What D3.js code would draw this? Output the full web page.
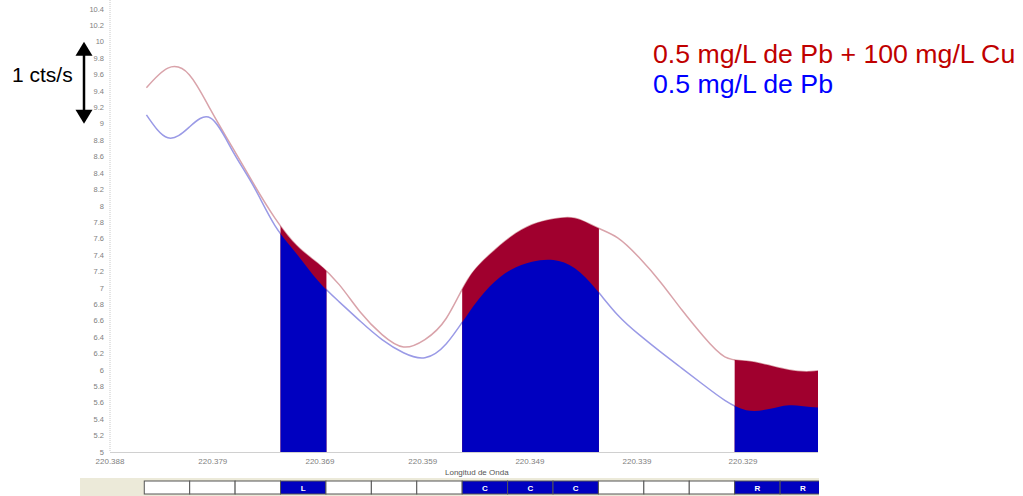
<!DOCTYPE html>
<html>
<head>
<meta charset="utf-8">
<script src="https://cdn.jsdelivr.net/npm/d3@7"></script>
<style>
  body { margin: 0; background: #fff; }
  svg { display: block; font-family: "Liberation Sans", Arial, sans-serif; }
</style>
</head>
<body>
<div id="chart"></div>
<script>
// spectrum around Pb 220.353 nm, wavelength decreasing to the right
var wavelengths = [220.3855, 220.3835, 220.3815, 220.3795, 220.3775, 220.3755, 220.3735, 220.3715,
  220.3695, 220.3675, 220.3655, 220.3635, 220.3615, 220.3595, 220.3575, 220.3555, 220.3535,
  220.3515, 220.3495, 220.3475, 220.3455, 220.3435, 220.3415, 220.3395, 220.3375, 220.3355,
  220.3335, 220.3315, 220.3295, 220.3275, 220.3255, 220.3235, 220.3215];

// 0.5 mg/L Pb + 100 mg/L Cu
var pbCu = [9.44, 9.68, 9.60, 9.17, 8.72, 8.27, 7.85, 7.52, 7.30, 7.04, 6.70, 6.43, 6.28, 6.37,
  6.63, 7.10, 7.40, 7.62, 7.77, 7.84, 7.85, 7.74, 7.61, 7.37, 7.07, 6.73, 6.41, 6.16, 6.11,
  6.06, 6.00, 5.98, 6.02];

// 0.5 mg/L Pb
var pb = [9.11, 8.83, 8.96, 9.07, 8.68, 8.24, 7.76, 7.42, 7.09, 6.83, 6.59, 6.37, 6.21, 6.15,
  6.32, 6.68, 7.01, 7.22, 7.32, 7.34, 7.24, 6.98, 6.67, 6.43, 6.22, 6.02, 5.82, 5.63, 5.51,
  5.52, 5.57, 5.55, 5.54];

// detector pixels (L = left background, C = centre, R = right background)
var pixelLabels = ["", "", "", "L", "", "", "", "C", "C", "C", "", "", "", "R", "R"];
var pixelStart = 220.3857, pixelWidth = 0.00424;

var xTicks = [220.3889, 220.3793, 220.3693, 220.3597, 220.3497, 220.3397, 220.3298];
var yTicks = [5, 5.2, 5.4, 5.6, 5.8, 6, 6.2, 6.4, 6.6, 6.8, 7, 7.2, 7.4, 7.6, 7.8, 8,
  8.2, 8.4, 8.6, 8.8, 9, 9.2, 9.4, 9.6, 9.8, 10, 10.2, 10.4];

var legendLabels = ["0.5 mg/L de Pb + 100 mg/L Cu", "0.5 mg/L de Pb"];

var width = 1023, height = 496;
var plotLeft = 110, plotRight = 818, plotTop = 9, plotBottom = 452;

var svg = d3.select("#chart").append("svg")
    .attr("width", width)
    .attr("height", height);

var x = d3.scaleLinear().domain([220.3889, 220.3228]).range([plotLeft, plotRight]);
var y = d3.scaleLinear().domain([5, 10.4]).range([plotBottom, plotTop]);

var pixels = pixelLabels.map(function(lab, i) {
  return { label: lab, w0: pixelStart - i * pixelWidth, w1: pixelStart - (i + 1) * pixelWidth };
});

var defs = svg.append("defs");
defs.append("clipPath").attr("id", "plot")
  .append("rect").attr("x", plotLeft).attr("y", 0)
  .attr("width", plotRight - plotLeft).attr("height", plotBottom);

defs.append("clipPath").attr("id", "strip")
  .append("rect").attr("x", 0).attr("y", 470)
  .attr("width", plotRight + 1).attr("height", 30);

var bandClip = defs.append("clipPath").attr("id", "bands");
bandClip.selectAll("rect")
  .data(pixels.filter(function(p) { return p.label; }))
  .enter().append("rect")
  .attr("x", function(p) { return x(p.w0); })
  .attr("width", function(p) { return x(p.w1) - x(p.w0) + 0.5; })
  .attr("y", 0).attr("height", plotBottom);

var pts = function(vals) { return vals.map(function(v, i) { return [wavelengths[i], v]; }); };

var line = d3.line()
  .x(function(d) { return x(d[0]); })
  .y(function(d) { return y(d[1]); })
  .curve(d3.curveNatural);

var area = d3.area()
  .x(function(d) { return x(d[0]); })
  .y0(y(5))
  .y1(function(d) { return y(d[1]); })
  .curve(d3.curveNatural);

// y axis: dotted line + labels
svg.append("line")
  .attr("x1", plotLeft).attr("x2", plotLeft).attr("y1", 0).attr("y2", plotBottom)
  .attr("stroke", "#c8c8c8").attr("stroke-dasharray", "1,1");

svg.append("g").selectAll("text")
  .data(yTicks).enter().append("text")
  .attr("x", plotLeft - 6)
  .attr("y", function(d) { return y(d); })
  .attr("dy", "0.35em")
  .attr("text-anchor", "end")
  .attr("font-size", 7.5)
  .attr("fill", "#808080")
  .text(d3.format("~g"));

// x axis
svg.append("line")
  .attr("x1", plotLeft).attr("x2", plotRight).attr("y1", plotBottom + 0.5).attr("y2", plotBottom + 0.5)
  .attr("stroke", "#d0d0d0");

svg.append("g").selectAll("text")
  .data(xTicks).enter().append("text")
  .attr("x", function(d) { return x(d); })
  .attr("y", 464)
  .attr("text-anchor", "middle")
  .attr("font-size", 8)
  .attr("fill", "#808080")
  .text(function(d) { return (Math.floor(d * 1000) / 1000).toFixed(3); });

svg.append("text")
  .attr("x", 445).attr("y", 475)
  .attr("font-size", 8)
  .attr("fill", "#555")
  .text("Longitud de Onda");

// curves
var plot = svg.append("g").attr("clip-path", "url(#plot)");

plot.append("path").datum(pts(pbCu))
  .attr("d", line).attr("fill", "none")
  .attr("stroke", "#d9a3aa").attr("stroke-width", 1.5);

plot.append("path").datum(pts(pb))
  .attr("d", line).attr("fill", "none")
  .attr("stroke", "#9a9ae6").attr("stroke-width", 1.5);

var filled = plot.append("g").attr("clip-path", "url(#bands)");
filled.append("path").datum(pts(pbCu)).attr("d", area).attr("fill", "#a0002e");
filled.append("path").datum(pts(pb)).attr("d", area).attr("fill", "#0000c0");

// pixel strip at the bottom
var strip = svg.append("g").attr("clip-path", "url(#strip)");
strip.append("rect")
  .attr("x", 80).attr("y", 478).attr("width", plotRight + 2 - 80).attr("height", 18)
  .attr("fill", "#ecead9");

var cells = strip.append("g").selectAll("g")
  .data(pixels).enter().append("g");

cells.append("rect")
  .attr("x", function(p) { return x(p.w0); })
  .attr("y", 481)
  .attr("width", function(p) { return x(p.w1) - x(p.w0); })
  .attr("height", 13)
  .attr("fill", function(p) { return p.label ? "#0000c0" : "#fff"; })
  .attr("stroke", "#555").attr("stroke-width", 1);

cells.append("text")
  .attr("x", function(p) { return (x(p.w0) + x(p.w1)) / 2; })
  .attr("y", 490.5)
  .attr("text-anchor", "middle")
  .attr("font-size", 8)
  .attr("font-weight", "bold")
  .attr("fill", "#fff")
  .text(function(p) { return p.label; });

// 1 cts/s scale arrow
var ax = 84;
svg.append("line")
  .attr("x1", ax).attr("x2", ax)
  .attr("y1", y(10) + 10).attr("y2", y(9) - 10)
  .attr("stroke", "#000").attr("stroke-width", 2.5);
svg.append("path")
  .attr("d", "M" + ax + "," + y(10) + "l-8.5,14h17z")
  .attr("fill", "#000");
svg.append("path")
  .attr("d", "M" + ax + "," + y(9) + "l-8.5,-14h17z")
  .attr("fill", "#000");
svg.append("text")
  .attr("x", 12).attr("y", 82)
  .attr("font-size", 21)
  .attr("fill", "#000")
  .text("1 cts/s");

// legend
svg.append("g").selectAll("text")
  .data(legendLabels).enter().append("text")
  .attr("x", 653)
  .attr("y", function(d, i) { return 63 + i * 30; })
  .attr("font-size", 26.7)
  .attr("fill", function(d, i) { return i === 0 ? "#c00000" : "#0000ff"; })
  .text(function(d) { return d; });
</script>
</body>
</html>
